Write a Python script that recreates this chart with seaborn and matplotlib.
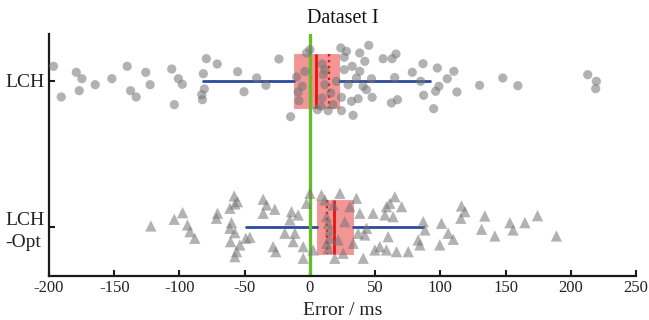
import numpy as np
import pandas as pd
import seaborn as sns
import matplotlib.pyplot as plt

# ---------------- data ----------------
categories = ["LCH", "LCH\n-Opt"]
xticks = [-200, -150, -100, -50, 0, 50, 100, 150, 200, 250]

# LCH errors (ms) and vertical jitter (px offsets from row centre)
lch_err = [-196.5, -190.6, -179.1, -174.8, -176.8, -164.6, -151.8, -140.1, -137.5, -133.2,
           -125.8, -122.5, -105.9, -100.8, -97.8, -103.9, -79.4, -71.0, -81.7, -80.9,
           -82.9, -82.4, -55.4, -50.5,
           -40.8, -33.7, -23.7, -10.2, -9.0, -5.9, -8.4, -2.6, 0.0, -3.8,
           9.4, 11.4, 10.4, 11.4, 9.4, 8.4, 5.8, 16.0, 17.8, 20.4,
           23.7, 28.0, 26.3, 38.2, 45.1, 42.1, 26.3, 32.4, 38.2, 35.7,
           29.3, 40.8, 43.3, 47.2, 56.1, 63.0, 24.2, 31.9, 37.0, 47.7,
           24.2, 33.1, 14.0, 62.5, -14.8,
           66.0, 65.0, 67.1, 78.5, 86.7, 84.9, 97.7, 105.3, 110.4, 98.9,
           96.4, 87.2, 112.7, 94.9, 130.1, 147.9, 159.4, 213.0, 219.6, 219.1]
lch_jit = [-14.7, 16, -8.7, -2.3, 9.7, 3.7, -2.3, -14.7, 9.7, 16,
           -8.7, 3.7, -12, -2.3, 3.3, 23.7, -22.3, -17, -7.3, 8,
           13.7, 18.7, -9.3, 10.7,
           -3, 4.3, -22, -4, 11, 5.3, 19.7, -28, -31.3, -9.7,
           -17, -11.3, -6.3, 3.7, 17, 25.3, 28.7, 12, 23.7, 0.3,
           -33, -29.7, -23.7, -28, -35.7, -19.7, -11.3, -14.7, -9.7, -3,
           3.7, 5.3, 8.7, -2.3, -22.3, -22.3, 16.3, 20.3, 17.7, 16.3,
           29.7, 34.3, 29.7, 22, 35.7,
           -27, -3.5, 18.7, -8.7, -17.3, 0.3, -13, -2.3, -9.7, 5.3,
           10.3, 14.3, 11, 27.7, 4.3, -3, 4.7, -6.3, 0.3, 7.7]

# LCH-Opt errors (ms) and vertical jitter (px offsets)
opt_err = [-121.9, -104.0, -97.6, -93.8, -92.0, -88.2, -70.8, -71.6, -58.0, -55.5,
           -61.3, -57.5, -60.1, -61.3, -57.5, -60.8, -53.7, -56.2, -57.5, -49.1,
           -46.0, -35.8, -33.2, -35.8, -26.9, -28.2, -26.1,
           -14.1, -9.0, -15.3, -19.2, -11.5, -12.8, -5.1, -5.1, 0.0, -2.6,
           2.5, 8.9, 11.5, 23.0, 12.8, 14.0, 15.3, 15.3, 12.8, 14.0,
           17.9, 19.1, 25.5, 26.8, 21.7, 35.7, 30.6, 38.3, 33.2, 40.9,
           37.0, 43.4, 42.1, 48.5, 53.6, 49.8, 58.7, 61.3, 57.5, 65.1,
           63.8, 60.0, 58.7, 66.4,
           70.3, 75.4, 83.0, 84.3, 86.9, 88.2, 100.9, 106.0, 109.9, 99.6,
           116.2, 118.8, 115.7, 134.1, 131.6, 141.8, 153.3, 155.8, 164.8, 174.5,
           189.0]
opt_jit = [-1, -7.7, -14.3, -2, 4.7, 11.3, -13.7, -8.7, -31, -25.3,
           -18.7, -23, -4.3, 1.3, 5.7, 14.7, 18, 24.7, 29.7, 11.3,
           10.3, -27.7, -22, -13.7, -17.7, 19.7, 24.7,
           -15.3, -12, -7, 6.3, 6.3, 14.7, 19.7, 31.3, -33.7, -23.7,
           23, -32, -27, -33.7, -10.3, -3.7, 3, 11.3, 16.3, 21.3,
           -22, 31.3, 26.3, -5.3, 13, -28.7, -20.3, -13.7, 16.3, 31.3,
           6.3, 1.3, 8, -13.7, 19.7, 23, -20.3, -23.7, -12, -30.3,
           -10.3, 9.7, 23, 24.7,
           -20.3, 24.7, 13, 18, -5.3, 3, -3.7, 6.3, 12.3, 18,
           -21, -15.3, -8.7, -11, 2.3, 9, -4.3, 3, -4.3, -11.3,
           9]

# box statistics per category
q1 = [-12.0, 5.6]
median = [4.6, 18.6]
q3 = [22.5, 32.7]
mean = [14.8, 13.5]
whisker_lo = [-82.0, -49.0]
whisker_hi = [92.0, 86.4]

# ---------------- figure ----------------
sns.set_theme(style="ticks")
plt.rcParams['font.family'] = ['Liberation Serif', 'DejaVu Serif']

W, H = 649, 320
fig = plt.figure(figsize=(W / 100, H / 100), dpi=100)
ax = fig.add_axes([49 / W, 1 - 276 / H, (636 - 49) / W, (276 - 34) / H])

ROW_PX = 146.0
df = pd.DataFrame({
    "err": lch_err + opt_err,
    "row": [0] * len(lch_err) + [1] * len(opt_err),
    "jit": lch_jit + opt_jit,
})
df["y"] = df["row"] + df["jit"] / ROW_PX

# boxes
stats = []
for i in range(len(categories)):
    stats.append(dict(med=median[i], q1=q1[i], q3=q3[i], whislo=whisker_lo[i],
                      whishi=whisker_hi[i], mean=mean[i], fliers=[]))
ax.bxp(stats, positions=[0, 1], widths=0.365, orientation="horizontal",
       patch_artist=True, showcaps=False, showfliers=False,
       showmeans=True, meanline=True,
       boxprops=dict(facecolor="#f28a8a", edgecolor="#e99a9a", linewidth=0.8, alpha=0.9),
       whiskerprops=dict(color="#2d4b9b", linewidth=2.0),
       medianprops=dict(color="#ee1111", linewidth=2.0),
       meanprops=dict(color="#ee1111", linewidth=1.7, linestyle=(0, (1, 1.5))),
       zorder=2)

# zero line
ax.axvline(0, color="#66bb2a", linewidth=2.4, zorder=2.5)

# points
sns.scatterplot(data=df[df.row == 0], x="err", y="y", marker="o", s=44,
                color="#747474", alpha=0.55, edgecolor="none", ax=ax,
                legend=False, zorder=3)
sns.scatterplot(data=df[df.row == 1], x="err", y="y", marker="^", s=66,
                color="#747474", alpha=0.55, edgecolor="none", ax=ax,
                legend=False, zorder=3)

ax.set_xlim(-200, 250)
ax.set_ylim(1.336, -0.322)
ax.set_xticks(xticks)
ax.set_xticklabels([str(t) for t in xticks], fontsize=12, color="#222222")
ax.set_yticks([0, 1])
ylabs = ax.set_yticklabels(categories, fontsize=14, color="#222222", linespacing=1.35)
for t in ylabs:
    t.set_multialignment("left")

for s in ["top", "right"]:
    ax.spines[s].set_visible(False)
for s in ["left", "bottom"]:
    ax.spines[s].set_linewidth(1.6)
    ax.spines[s].set_color("#1a1a1a")
ax.tick_params(direction="in", length=4, width=1.5, color="#1a1a1a", pad=3)

ax.set_xlabel("Error / ms", fontsize=14, color="#222222", labelpad=4)
ax.set_ylabel("")
ax.set_title("Dataset I", fontsize=14.5, color="#111111", pad=8)

fig.savefig("out.png", dpi=100)
